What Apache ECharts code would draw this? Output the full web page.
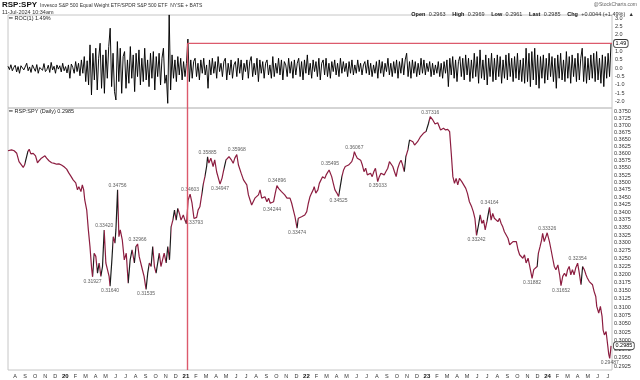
<!DOCTYPE html>
<html><head><meta charset="utf-8">
<script src="https://cdn.jsdelivr.net/npm/echarts@6/dist/echarts.min.js"></script>
<style>html,body{margin:0;padding:0;background:#fff}#c{width:640px;height:380px}</style>
</head><body><div id="c"></div>
<script>
// ---------- DATA ----------
const priceDates = [
'2019-07-10','2019-07-21','2019-07-29','2019-08-06','2019-08-13','2019-08-19','2019-08-26','2019-08-30','2019-09-09','2019-09-13',
'2019-09-18','2019-09-25','2019-10-02','2019-10-08','2019-10-13','2019-10-20','2019-10-25','2019-10-31','2019-11-05','2019-11-12',
'2019-11-20','2019-11-28','2019-12-05','2019-12-12','2019-12-20','2019-12-28','2020-01-05','2020-01-12','2020-01-18','2020-01-25',
'2020-02-02','2020-02-07','2020-02-11','2020-02-17','2020-02-21','2020-02-25','2020-02-28','2020-03-05','2020-03-10','2020-03-15',
'2020-03-20','2020-03-23','2020-03-28','2020-04-02','2020-04-07','2020-04-12','2020-04-17','2020-04-22','2020-04-27','2020-05-02',
'2020-05-07','2020-05-12','2020-05-15','2020-05-20','2020-05-25','2020-05-30','2020-06-02','2020-06-07','2020-06-11','2020-06-15',
'2020-06-21','2020-06-27','2020-07-03','2020-07-09','2020-07-15','2020-07-21','2020-07-28','2020-08-02','2020-08-07','2020-08-12',
'2020-08-17','2020-08-22','2020-08-27','2020-09-02','2020-09-07','2020-09-12','2020-09-17','2020-09-22','2020-09-27','2020-10-02',
'2020-10-07','2020-10-12','2020-10-17','2020-10-22','2020-10-27','2020-11-02','2020-11-07','2020-11-12','2020-11-17','2020-11-22',
'2020-11-27','2020-12-02','2020-12-07','2020-12-12','2020-12-17','2020-12-24','2020-12-29','2021-01-03','2021-01-08','2021-01-14',
'2021-01-20','2021-01-26','2021-02-03','2021-02-07','2021-02-12','2021-02-17','2021-02-22','2021-02-26','2021-03-03','2021-03-06',
'2021-03-10','2021-03-16','2021-03-23','2021-03-28','2021-04-03','2021-04-13','2021-04-19','2021-04-24','2021-05-01','2021-05-10',
'2021-05-18','2021-05-23','2021-05-28','2021-06-03','2021-06-08','2021-06-16','2021-06-23','2021-06-28','2021-07-03','2021-07-08',
'2021-07-13','2021-07-18','2021-07-23','2021-07-28','2021-08-03','2021-08-08','2021-08-13','2021-08-18','2021-08-23','2021-08-28',
'2021-09-03','2021-09-08','2021-09-13','2021-09-18','2021-09-23','2021-09-28','2021-10-03','2021-10-08','2021-10-12','2021-10-17',
'2021-10-22','2021-10-27','2021-11-03','2021-11-07','2021-11-12','2021-11-17','2021-11-22','2021-11-27','2021-12-03','2021-12-07',
'2021-12-12','2021-12-17','2021-12-22','2021-12-27','2022-01-02','2022-01-07','2022-01-12','2022-01-17','2022-01-22','2022-01-25',
'2022-01-30','2022-02-05','2022-02-09','2022-02-14','2022-02-18','2022-02-24','2022-02-28','2022-03-05','2022-03-09','2022-03-12',
'2022-03-17','2022-03-22','2022-03-27','2022-04-02','2022-04-07','2022-04-12','2022-04-17','2022-04-22','2022-04-27','2022-05-02',
'2022-05-07','2022-05-12','2022-05-17','2022-05-22','2022-05-25','2022-05-29','2022-06-03','2022-06-08','2022-06-13','2022-06-18',
'2022-06-23','2022-06-28','2022-07-03','2022-07-08','2022-07-13','2022-07-18','2022-07-23','2022-07-28','2022-08-04','2022-08-09',
'2022-08-14','2022-08-19','2022-08-24','2022-08-29','2022-09-04','2022-09-09','2022-09-14','2022-09-19','2022-09-24','2022-09-29',
'2022-10-04','2022-10-09','2022-10-14','2022-10-19','2022-10-24','2022-10-29','2022-11-04','2022-11-09','2022-11-14','2022-11-19',
'2022-11-24','2022-12-03','2022-12-11','2022-12-21','2022-12-29','2023-01-06','2023-01-11','2023-01-19','2023-01-26','2023-02-03',
'2023-02-11','2023-02-19','2023-02-25','2023-03-03','2023-03-09','2023-03-14','2023-03-19','2023-03-24','2023-03-29','2023-04-03',
'2023-04-08','2023-04-15','2023-04-20','2023-04-27','2023-05-02','2023-05-08','2023-05-15','2023-05-20','2023-05-25','2023-05-30',
'2023-06-05','2023-06-10','2023-06-15','2023-06-20','2023-06-25','2023-06-30','2023-07-08','2023-07-13','2023-07-18','2023-07-23',
'2023-07-28','2023-08-03','2023-08-08','2023-08-13','2023-08-18','2023-08-23','2023-08-28','2023-09-03','2023-09-08','2023-09-13',
'2023-09-18','2023-09-23','2023-09-28','2023-10-03','2023-10-08','2023-10-13','2023-10-18','2023-10-23','2023-10-28','2023-11-03',
'2023-11-08','2023-11-15','2023-11-20','2023-11-25','2023-11-30','2023-12-04','2023-12-09','2023-12-14','2023-12-17','2023-12-22',
'2023-12-27','2023-12-31','2024-01-07','2024-01-12','2024-01-17','2024-01-22','2024-01-27','2024-02-02','2024-02-07','2024-02-11',
'2024-02-16','2024-02-21','2024-02-26','2024-03-01','2024-03-06','2024-03-11','2024-03-16','2024-03-21','2024-03-26','2024-04-01',
'2024-04-06','2024-04-11','2024-04-16','2024-04-21','2024-04-26','2024-04-30','2024-05-06','2024-05-11','2024-05-16','2024-05-21',
'2024-05-26','2024-05-29','2024-06-04','2024-06-09','2024-06-14','2024-06-17','2024-06-21','2024-06-26','2024-06-29','2024-07-04',
'2024-07-07','2024-07-10','2024-07-11'
];
const priceValues = [
0.3610,0.3613,0.3610,0.3601,0.3572,0.3566,0.3552,0.3560,0.3607,0.3615,
0.3599,0.3601,0.3592,0.3568,0.3575,0.3584,0.3578,0.3592,0.3584,0.3575,
0.3568,0.3566,0.3563,0.3564,0.3560,0.3554,0.3546,0.3532,0.3522,0.3509,
0.3499,0.3475,0.3486,0.3469,0.3492,0.3475,0.3441,0.3407,0.3342,0.3288,
0.3220,0.31927,0.3267,0.3257,0.3204,0.3236,0.3194,0.3225,0.33420,0.3236,
0.3215,0.3194,0.31640,0.3236,0.3320,0.3299,0.3342,0.34756,0.3320,0.3342,
0.3310,0.3246,0.3267,0.3173,0.3246,0.3278,0.3236,0.3288,0.32966,0.3256,
0.3256,0.3214,0.3194,0.31535,0.3204,0.3236,0.3225,0.3288,0.3225,0.3204,
0.3236,0.3267,0.3225,0.3246,0.3267,0.3236,0.3288,0.3246,0.3352,0.3374,
0.3407,0.3374,0.3413,0.3396,0.3374,0.3391,0.3374,0.3363,0.3441,0.34603,
0.3430,0.33793,0.3383,0.3407,0.3418,0.3424,0.3497,0.3520,0.3555,0.35885,
0.3567,0.3584,0.3555,0.3578,0.3536,0.34947,0.3515,0.3543,0.3578,0.3589,
0.3577,0.3566,0.3584,0.35968,0.3560,0.3532,0.3509,0.3515,0.3492,0.3458,
0.3441,0.3424,0.3430,0.3447,0.3441,0.3458,0.3475,0.3447,0.3441,0.3452,
0.3435,0.3447,0.3430,0.34244,0.3435,0.3464,0.34896,0.3480,0.3486,0.3469,
0.3475,0.3458,0.3447,0.3441,0.3447,0.3430,0.3407,0.3385,0.33474,0.3380,
0.3374,0.3385,0.3380,0.3391,0.3402,0.3430,0.3452,0.3464,0.3475,0.3486,
0.3464,0.3475,0.3497,0.3503,0.3520,0.3514,0.3526,0.3532,0.3543,0.35495,
0.3520,0.3497,0.3475,0.3464,0.34525,0.3486,0.3520,0.3543,0.3555,0.3549,
0.3560,0.3555,0.3572,0.3589,0.36067,0.3595,0.3584,0.3589,0.3577,0.3560,
0.3537,0.3549,0.3526,0.3520,0.3532,0.3520,0.3537,0.3549,0.35033,0.3520,
0.3532,0.3537,0.3526,0.3537,0.3549,0.3572,0.3566,0.3555,0.3537,0.3520,
0.3549,0.3566,0.3577,0.3560,0.3537,0.3589,0.3613,0.3648,0.3654,0.3642,
0.3630,0.3642,0.3658,0.3672,0.3678,0.3708,0.37316,0.3720,0.3705,0.3710,
0.3684,0.3690,0.3684,0.3686,0.3678,0.3601,0.3520,0.3497,0.3514,0.3492,
0.3514,0.3503,0.3509,0.3480,0.3463,0.3435,0.3418,0.3402,0.3380,0.33242,
0.3358,0.3391,0.3363,0.3374,0.3342,0.3369,0.34164,0.3374,0.3396,0.3380,
0.3385,0.3369,0.3380,0.3363,0.3352,0.3336,0.3331,0.3315,0.3294,0.3288,
0.3304,0.3310,0.3304,0.3278,0.3262,0.3267,0.3251,0.3262,0.3236,0.3251,
0.3225,0.31882,0.3215,0.3220,0.3225,0.3267,0.3288,0.3310,0.3331,0.3304,
0.3320,0.33326,0.3304,0.3278,0.3251,0.3225,0.3215,0.3230,0.3199,0.31652,
0.3194,0.3204,0.3194,0.3215,0.3225,0.3199,0.3215,0.3199,0.3220,0.32354,
0.3204,0.3168,0.3225,0.3215,0.3199,0.3189,0.3178,0.3173,0.3168,0.3147,
0.3132,0.3102,0.3082,0.3102,0.3072,0.3032,0.3017,0.3027,0.3002,0.2961,
0.29487,0.2973,0.2985
];
// labelled highs / lows
const annDates = ['2020-03-23','2020-04-27','2020-05-15','2020-06-07','2020-08-07','2020-09-02','2021-01-14','2021-01-26','2021-03-06',
  '2021-04-13','2021-06-03','2021-09-18','2021-10-03','2021-12-03','2022-03-12','2022-04-07','2022-05-25','2022-08-04','2023-01-11',
  '2023-05-30','2023-07-08','2023-11-15','2023-12-31','2024-02-11','2024-04-01','2024-07-07'];
const annValues = [0.31927,0.33420,0.31640,0.34756,0.32966,0.31535,0.34603,0.33793,0.35885,
  0.34947,0.35968,0.34244,0.34896,0.33474,0.35495,0.34525,0.36067,0.35033,0.37316,
  0.33242,0.34164,0.31882,0.33326,0.31652,0.32354,0.29487];
const annPos = ['bottom','top','bottom','top','top','bottom','top','bottom','top',
  'bottom','top','bottom','top','bottom','top','bottom','top','bottom','top',
  'bottom','top','bottom','top','bottom','top','bottom'];
// ROC(1) daily % change, read left to right across the upper panel
const rocStart = '2019-07-10', rocEnd = '2024-07-11';
const rocValues = [
0.12,-0.08,0.21,-0.15,0.05,0.18,-0.22,0.1,-0.3,0.15,0.25,-0.1,-0.2,0.3,-0.15,0.08,-0.25,0.2,0.1,-0.18,
0.22,-0.3,0.05,0.15,-0.12,0.28,-0.2,-0.08,0.18,-0.25,0.35,-0.1,0.12,-0.3,0.2,-0.05,0.15,-0.22,0.3,-0.15,
0.1,-0.28,0.2,-0.6,0.25,0.05,-0.3,0.4,-0.2,0.3,-0.45,0.5,-0.3,0.7,-0.8,0.45,-1.0,1.4,-1.6,0.9,
-0.7,1.2,-1.3,0.6,1.5,-1.2,0.8,-1.5,1.1,-0.6,1.3,2.4,-1.1,0.9,-1.4,-1.9,1.6,-0.8,1.2,-1.5,
0.7,1.0,-1.2,0.5,-0.9,1.3,-0.6,0.8,-1.4,0.9,-0.5,1.1,-1.0,0.6,-0.8,1.2,-0.7,0.5,-1.1,0.9,
-0.6,1.0,-1.3,0.7,-0.5,0.9,-1.0,0.6,1.2,-0.9,-0.4,-2.1,3.2,-1.3,0.8,-0.6,0.5,-0.8,0.7,-0.4,
0.6,-0.7,0.4,-0.5,0.3,1.75,-0.8,0.5,-0.6,0.4,0.6,-0.5,0.3,-0.7,0.5,-0.3,0.6,-0.4,0.2,-1.2,
0.5,-0.4,0.6,-0.3,0.4,-0.6,0.7,-0.2,0.3,-0.5,0.4,0.6,-0.7,0.3,-0.4,0.5,-0.6,0.2,0.4,-0.5,
0.6,-0.3,0.5,-0.7,0.3,-0.2,0.5,-0.6,0.4,0.7,-0.5,0.3,-0.4,0.6,-0.8,0.5,-0.3,0.4,-0.6,0.3,
0.5,-0.4,0.2,-0.6,0.7,-0.5,0.3,-0.3,0.6,-0.4,0.5,-0.7,0.4,0.2,-0.5,0.6,-0.3,0.4,-0.6,0.5,
-0.4,0.3,0.6,-0.5,0.4,-0.7,0.5,-0.3,0.8,-0.4,0.3,-0.6,0.5,-0.2,0.4,-0.5,0.6,-0.7,0.3,0.5,
-0.4,0.6,-0.5,0.3,-0.6,0.4,-0.2,0.5,-0.4,0.3,-0.5,0.6,-0.3,0.4,-0.2,0.3,-0.5,0.4,-0.3,0.5,
-0.4,0.2,-0.3,0.5,-0.2,0.3,-0.4,0.2,0.4,-0.3,0.5,-0.4,0.3,-0.5,0.2,-0.3,0.4,-0.6,0.5,-0.3,
0.4,-0.5,0.3,-0.2,0.6,-0.4,0.3,-0.5,0.4,-0.3,0.5,-0.6,0.4,-0.3,0.6,-0.4,0.5,0.9,-0.5,0.4,
-0.6,0.5,-0.3,0.4,-0.5,0.3,-0.4,0.6,-0.3,0.5,-0.4,0.3,-0.2,0.4,-0.5,0.3,-0.4,0.2,-0.3,0.4,
-0.5,0.3,-0.6,0.4,-0.3,0.5,-1.1,0.6,-0.4,0.7,-0.6,0.5,-0.8,0.4,0.7,-0.5,0.6,-0.7,0.8,-0.4,
0.6,-0.8,0.5,-0.6,0.9,-0.5,0.7,-0.9,1.1,-0.6,0.5,-0.7,0.8,-1.0,0.6,-0.5,0.9,-0.8,0.6,-0.7,
0.8,-0.5,0.7,-0.9,0.5,-0.6,0.8,-0.7,0.9,-0.5,0.6,-0.8,0.7,-0.6,0.9,-0.7,0.5,-0.8,0.6,-0.9,
1.2,-0.8,0.9,-1.1,1.0,-0.7,1.2,-1.0,0.8,-1.2,0.7,-0.6,0.8,-0.9,0.6,-0.7,0.9,-0.5,0.7,-0.8,
0.6,-1.2,0.8,-0.6,0.9,-0.7,0.5,-0.8,1.0,-0.6,0.7,-0.9,0.8,-0.5,0.6,-0.8,0.9,-0.7,0.6,1.2,
-0.8,0.7,-0.9,0.6,-0.7,0.8,-0.6,0.9,-0.8,1.0,-0.7,0.6,-0.9,0.8,-1.1,0.7,-0.6,0.9,-0.5,1.49
];
const rocTicks = [-2.0,-1.5,-1.0,-0.5,0.0,0.5,1.0,1.5,2.0,2.5,3.0];
const priceTicks = [0.2925,0.2950,0.2975,0.3000,0.3025,0.3050,0.3075,0.3100,0.3125,0.3150,0.3175,0.3200,0.3225,0.3250,0.3275,0.3300,
  0.3325,0.3350,0.3375,0.3400,0.3425,0.3450,0.3475,0.3500,0.3525,0.3550,0.3575,0.3600,0.3625,0.3650,0.3675,0.3700,0.3725,0.3750];
const monthLetters = ['J','F','M','A','M','J','J','A','S','O','N','D'];
const markerDate = '2021-01-06';
const rocLast = 1.49;
const priceLast = 0.2985;
const rocMin = -2.38, rocMax = 3.19;
const priceMin = 0.29156, priceMax = 0.37635;

// ---------- BUILD ----------
function toMonth(s){const p=s.split('-').map(Number);const dim=new Date(p[0],p[1],0).getDate();return (p[0]-2020)*12+(p[1]-1)+(p[2]-1)/dim;}
const priceData = priceDates.map((d,i)=>[toMonth(d), Math.log(priceValues[i])]);
const xMin = toMonth(priceDates[0]);
const xMax = toMonth(priceDates[priceDates.length-1]) + 0.1;
const r0 = toMonth(rocStart), r1 = toMonth(rocEnd);
const rocData = rocValues.map((v,i)=>[r0 + i*(r1-r0)/(rocValues.length-1), v]);
const xMark = toMonth(markerDate);
const monthTicks = []; for(let m=Math.ceil(xMin); m<=Math.floor(xMax); m++) monthTicks.push(m);
const upPieces = [];
for(let i=1;i<priceValues.length;i++){ if(priceValues[i]-priceValues[i-1] > 0.003) upPieces.push({gte:priceData[i-1][0], lte:priceData[i][0], color:'#1c1c1c'}); }
const annData = annDates.map((d,i)=>({value:[toMonth(d), Math.log(annValues[i])], label:{position:annPos[i]}, raw:annValues[i]}));

const F = 'Liberation Sans, Arial, sans-serif';
const axisTxt = {fontSize:5.5, color:'#333', fontFamily:F};
const red = '#dc5a6c';
const maroon = '#8c1d40';
const boxLabel = {show:true, position:'end', distance:2, fontSize:5.5, color:'#000', fontFamily:F,
  backgroundColor:'#fff', borderColor:'#333', borderWidth:0.8, borderRadius:2};

const chart = echarts.init(document.getElementById('c'), null, {renderer:'canvas'});
chart.setOption({
  animation:false,
  backgroundColor:'#fff',
  grid:[
    {left:8, right:28, top:15, height:93, show:true, borderColor:'#c6c6c6', borderWidth:1, backgroundColor:'transparent'},
    {left:8, right:28, top:108, height:262, show:true, borderColor:'#c6c6c6', borderWidth:1, backgroundColor:'transparent'}
  ],
  xAxis:[
    {type:'value', gridIndex:0, min:xMin, max:xMax, axisLine:{show:false}, axisTick:{show:false}, axisLabel:{show:false}, splitLine:{show:false}},
    {type:'value', gridIndex:1, min:xMin, max:xMax, axisLine:{show:false}, axisTick:{show:false}, splitLine:{show:false},
     axisLabel:{customValues:monthTicks, margin:3, fontSize:5.5, color:'#333', fontFamily:F,
       formatter:v=>{const m=Math.round(v);const mi=((m%12)+12)%12; if(mi===0) return '{y|'+String(2020+Math.floor(m/12)).slice(2)+'}'; return monthLetters[mi];},
       rich:{y:{fontSize:6, fontWeight:'bold', color:'#111', fontFamily:F}}}}
  ],
  yAxis:[
    {type:'value', gridIndex:0, position:'right', min:rocMin, max:rocMax, axisLine:{show:false}, axisTick:{show:false}, splitLine:{show:false},
     axisLabel:Object.assign({customValues:rocTicks, margin:3, formatter:v=>v.toFixed(1)}, axisTxt)},
    {type:'value', gridIndex:1, position:'right', min:Math.log(priceMin), max:Math.log(priceMax), axisLine:{show:false}, axisTick:{show:false}, splitLine:{show:false},
     axisLabel:Object.assign({customValues:priceTicks.map(Math.log), margin:2, formatter:v=>Math.exp(v).toFixed(4)}, axisTxt)}
  ],
  visualMap:[{show:false, type:'piecewise', seriesIndex:[1], dimension:0, pieces:upPieces, outOfRange:{color:maroon}}],
  series:[
    {type:'line', xAxisIndex:0, yAxisIndex:0, data:rocData, showSymbol:false, lineStyle:{color:'#000', width:0.95}, itemStyle:{color:'#000'}, z:2},
    {type:'line', xAxisIndex:1, yAxisIndex:1, data:priceData, showSymbol:false, lineStyle:{width:1.2}, z:3},
    {type:'scatter', xAxisIndex:1, yAxisIndex:1, data:annData, symbolSize:0.1, itemStyle:{color:'rgba(0,0,0,0)'}, z:4,
     label:{show:true, fontSize:5, color:'#333', fontFamily:F, distance:2, formatter:p=>p.data.raw.toFixed(5)}}
  ],
  graphic:[
    {type:'text', left:2, top:1, style:{text:'RSP:SPY', font:'bold 8px '+F, fill:'#111'}},
    {type:'text', left:40, top:3, style:{text:'Invesco S&P 500 Equal Weight ETF/SPDR S&P 500 ETF  NYSE + BATS', font:'5px '+F, fill:'#333'}},
    {type:'text', left:2, top:9.5, style:{text:'11-Jul-2024 10:34am', font:'5.5px '+F, fill:'#333'}},
    {type:'text', right:3, top:2, style:{text:'@StockCharts.com', font:'5px '+F, fill:'#666'}},
    {type:'text', right:6, top:8, style:{rich:{b:{font:'bold 5.5px '+F, fill:'#111'}, n:{font:'5.5px '+F, fill:'#333'}},
      text:'{b|Open} {n|0.2963}  {b|High} {n|0.2969}  {b|Low} {n|0.2961}  {b|Last} {n|0.2985}  {b|Chg} {n|+0.0044 (+1.49%)} {n|▲}'}},
    {type:'text', left:9, top:15.5, style:{text:'━ ROC(1) 1.49%', font:'5.5px '+F, fill:'#222'}},
    {type:'text', left:9, top:108.5, style:{text:'━ RSP:SPY (Daily) 0.2985', font:'5.5px '+F, fill:'#222'}}
  ]
});
// reference lines and value boxes, positioned through the chart's own scales
const px = (xi, yi, p) => chart.convertToPixel({xAxisIndex:xi, yAxisIndex:yi}, p);
const mk = [
  [0, 0, [xMark, rocLast], [xMax, rocLast]],
  [0, 0, [xMark, rocLast], [xMark, rocMin]],
  [1, 1, [xMark, Math.log(priceMax)], [xMark, Math.log(priceMin)]]
];
const extra = mk.map((m,k)=>{
  const a = px(m[0], m[1], m[2]), b = px(m[0], m[1], m[3]);
  return {id:'ref'+k, type:'line', z:100, silent:true, shape:{x1:a[0], y1:a[1], x2:b[0], y2:b[1]}, style:{stroke:red, lineWidth:1.4}};
});
const boxes = [[0, rocLast, rocLast.toFixed(2)], [1, Math.log(priceLast), priceLast.toFixed(4)]];
boxes.forEach((bx,k)=>{
  const p = px(bx[0], bx[0], [xMax, bx[1]]);
  extra.push({id:'box'+k, type:'text', z:101, x:p[0]+2, y:p[1], style:{text:bx[2], font:'5.5px '+F, fill:'#000', verticalAlign:'middle',
    backgroundColor:'#fff', borderColor:'#333', borderWidth:0.8, borderRadius:2, padding:[1,1.5,0,1.5]}});
});
chart.setOption({graphic: extra});
</script>
</body></html>
